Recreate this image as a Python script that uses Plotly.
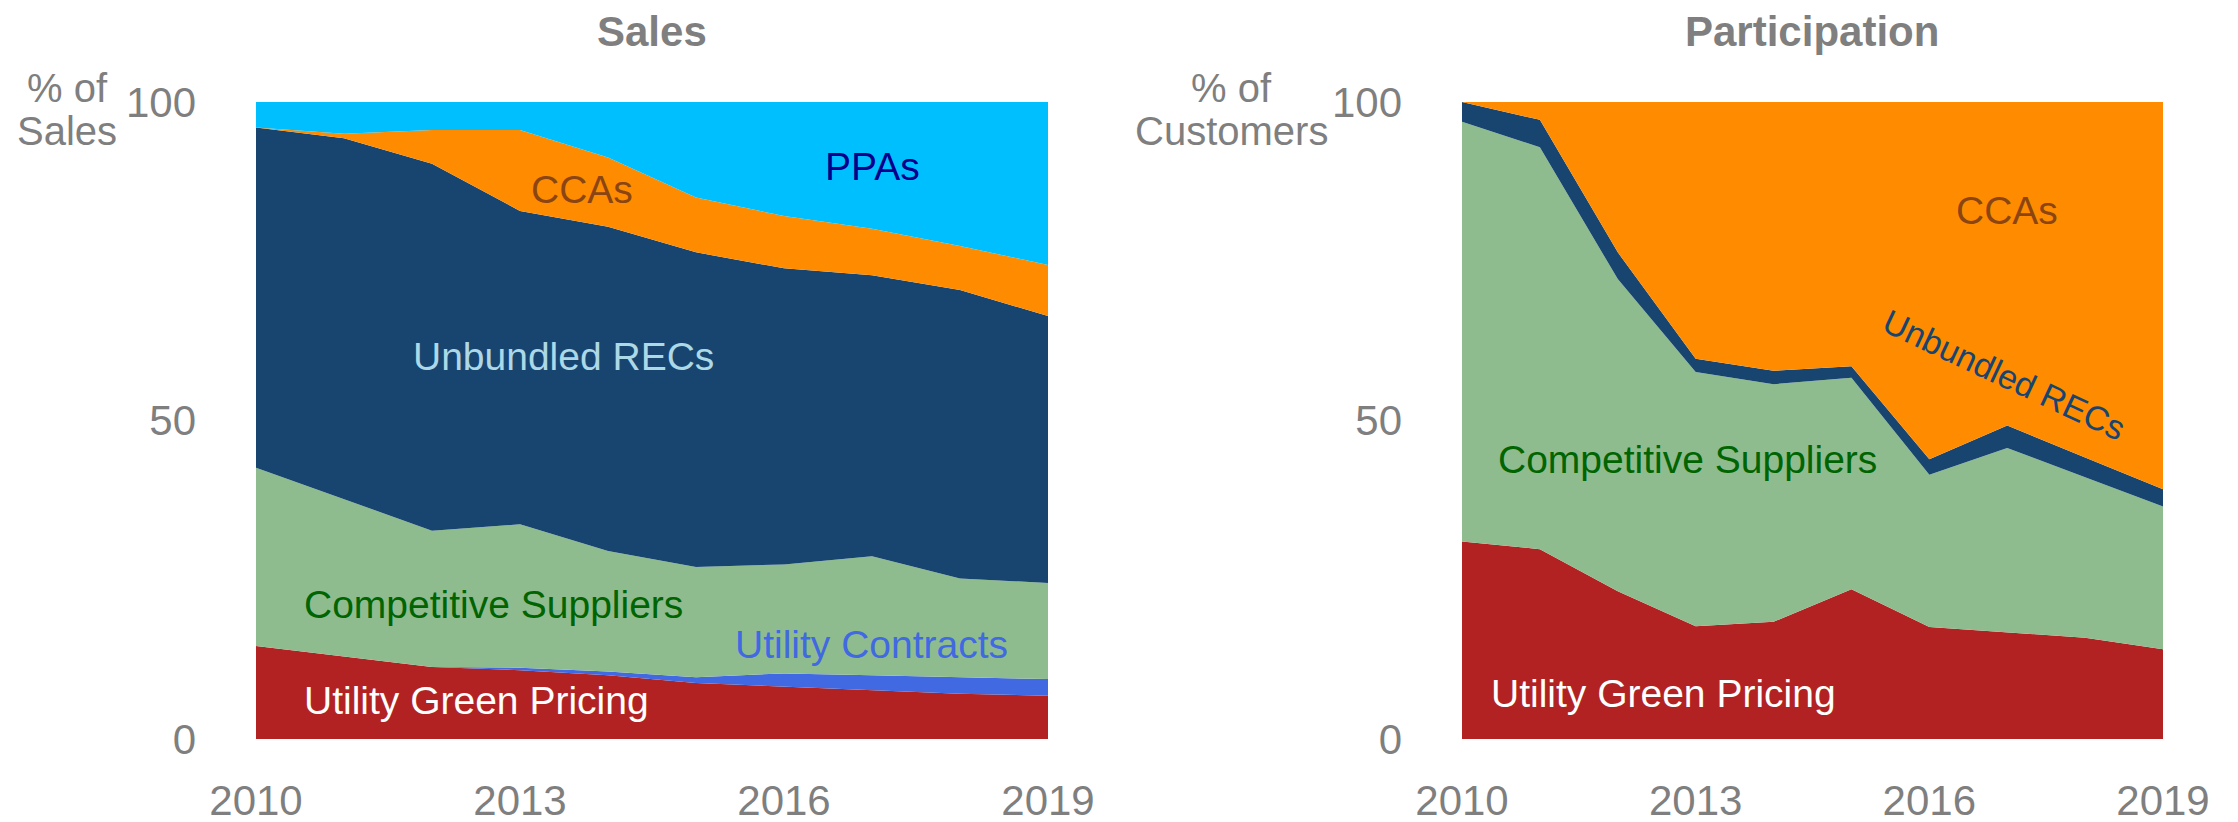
import plotly.graph_objects as go

W, H = 2238, 822
OFF = 8  # default body margin of the page

# ---------------- data ----------------
years = [2010, 2011, 2012, 2013, 2014, 2015, 2016, 2017, 2018, 2019]
x_tickvals = [2010, 2013, 2016, 2019]
y_tickvals = [0, 50, 100]

# Sales (% of sales)
sales_green_pricing = [14.6, 13.0, 11.3, 10.8, 10.0, 8.8, 8.2, 7.7, 7.1, 6.8]
sales_utility_contracts = [0.0, 0.0, 0.0, 0.4, 0.6, 0.9, 2.1, 2.3, 2.6, 2.6]
sales_competitive = [28.0, 24.6, 21.4, 22.5, 18.9, 17.3, 17.1, 18.7, 15.5, 15.1]
sales_unbundled = [53.4, 56.7, 57.6, 49.2, 50.9, 49.4, 46.5, 44.1, 45.3, 41.9]
sales_ccas = [0.0, 0.7, 5.3, 12.7, 10.9, 8.6, 8.2, 7.3, 6.9, 8.0]
sales_ppas = [4.0, 5.0, 4.4, 4.4, 8.7, 15.0, 17.9, 19.9, 22.6, 25.6]

# Participation (% of customers)
part_green_pricing = [31.0, 29.8, 23.2, 17.7, 18.4, 23.5, 17.6, 16.7, 15.9, 14.1]
part_competitive = [65.9, 63.1, 49.0, 39.9, 37.3, 33.2, 23.9, 29.0, 25.2, 22.4]
part_unbundled = [3.1, 4.3, 4.2, 2.1, 2.1, 1.8, 2.4, 3.5, 3.1, 2.7]
part_ccas = [0.0, 2.8, 23.6, 40.3, 42.2, 41.5, 56.1, 50.8, 55.8, 60.8]

# ---------------- styles ----------------
C_RED = "#B22222"
C_ROYAL = "#4169E1"
C_GREEN = "#8FBC8F"
C_NAVY = "#184570"
C_ORANGE = "#FF8C00"
C_SKY = "#00BFFF"
GRAY = "#7F7F7F"
FONT = "Arial, 'Liberation Sans', sans-serif"


def px_x(x):
    return (x - OFF) / W


def px_y(y):
    return 1 - (y - OFF) / H


fig = go.Figure()


def add_area(x, y, color, name, xa, ya, group):
    fig.add_trace(go.Scatter(
        x=x, y=y, name=name, mode="lines", stackgroup=group,
        line=dict(width=0, color=color), fillcolor=color,
        xaxis=xa, yaxis=ya, hoverinfo="skip", showlegend=False))


add_area(years, sales_green_pricing, C_RED, "Utility Green Pricing", "x", "y", "s")
add_area(years, sales_utility_contracts, C_ROYAL, "Utility Contracts", "x", "y", "s")
add_area(years, sales_competitive, C_GREEN, "Competitive Suppliers", "x", "y", "s")
add_area(years, sales_unbundled, C_NAVY, "Unbundled RECs", "x", "y", "s")
add_area(years, sales_ccas, C_ORANGE, "CCAs", "x", "y", "s")
add_area(years, sales_ppas, C_SKY, "PPAs", "x", "y", "s")

add_area(years, part_green_pricing, C_RED, "Utility Green Pricing", "x2", "y2", "p")
add_area(years, part_competitive, C_GREEN, "Competitive Suppliers", "x2", "y2", "p")
add_area(years, part_unbundled, C_NAVY, "Unbundled RECs", "x2", "y2", "p")
add_area(years, part_ccas, C_ORANGE, "CCAs", "x2", "y2", "p")

xcommon = dict(range=[2010, 2019], tickvals=x_tickvals, showgrid=False, zeroline=False,
               showline=False, ticks="", automargin=False,
               tickfont=dict(family=FONT, size=42, color=GRAY),
               ticklabelstandoff=33)
ycommon = dict(range=[0, 100], tickvals=y_tickvals, showgrid=False, zeroline=False,
               showline=False, ticks="", automargin=False,
               tickfont=dict(family=FONT, size=42, color=GRAY),
               ticklabelstandoff=59, domain=[px_y(739), px_y(102)])

fig.update_layout(
    template="none",
    width=W, height=H,
    margin=dict(l=0, r=0, t=0, b=0, pad=0),
    paper_bgcolor="white", plot_bgcolor="white",
    showlegend=False,
    xaxis=dict(domain=[px_x(256), px_x(1048)], anchor="y", **xcommon),
    yaxis=dict(anchor="x", **ycommon),
    xaxis2=dict(domain=[px_x(1462), px_x(2163)], anchor="y2", **xcommon),
    yaxis2=dict(anchor="x2", **ycommon),
)

ann = []


def lab(text, x, y, color, xr="x", yr="y", angle=0, size=39):
    ann.append(dict(text=text, x=x, y=y, xref=xr, yref=yr, showarrow=False,
                    xanchor="center", yanchor="middle", textangle=angle,
                    font=dict(family=FONT, size=size, color=color)))


# left chart labels
lab("PPAs", 2017.0, 89.9, "#00008B")
lab("CCAs", 2013.7, 86.2, "#8B4513")
lab("Unbundled RECs", 2013.49, 60.1, "#ADD8E6")
lab("Competitive Suppliers", 2012.7, 21.1, "#006400")
lab("Utility Contracts", 2016.99, 14.9, C_ROYAL)
lab("Utility Green Pricing", 2012.5, 6.1, "white")

# right chart labels
lab("CCAs", 2017.0, 82.9, "#8B4513", "x2", "y2")
lab("Unbundled RECs", 2016.97, 57.2, C_NAVY, "x2", "y2", angle=25, size=34)
lab("Competitive Suppliers", 2012.89, 43.9, "#006400", "x2", "y2")
lab("Utility Green Pricing", 2012.59, 7.1, "white", "x2", "y2")


def ptext(text, x, y, size=40, bold=False):
    ann.append(dict(text=f"<b>{text}</b>" if bold else text, x=px_x(x), y=px_y(y),
                    xref="paper", yref="paper", showarrow=False,
                    xanchor="center", yanchor="middle",
                    font=dict(family=FONT, size=size, color=GRAY)))


# titles
ptext("Sales", 652, 31, size=42, bold=True)
ptext("Participation", 1812, 31, size=42, bold=True)
# y-axis titles
ptext("% of", 67, 88)
ptext("Sales", 67, 131)
ptext("% of", 1231, 88)
ptext("Customers", 1231, 131)

fig.update_layout(annotations=ann)

fig.write_html("out.html")
